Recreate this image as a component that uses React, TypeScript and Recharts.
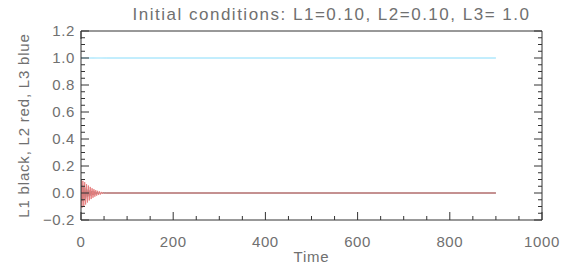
import { LineChart, Line, XAxis, YAxis } from "recharts";

// time samples: dense during the initial transient, then one point at the end
const TIME = [
  0, 2, 4, 6, 8, 10, 12, 14, 16, 18, 20, 22, 24, 26, 28, 30, 32, 34, 36, 38, 40,
  42, 44, 46, 48, 50, 52, 54, 56, 900,
];

const L1 = [
  0.1, -0.06, 0.05, -0.05, 0.04, -0.04, 0.03, -0.03, 0.025, -0.025, 0.02, -0.02,
  0.015, -0.015, 0.012, -0.011, 0.009, -0.008, 0.006, -0.005, 0.004, -0.004,
  0.003, -0.002, 0.002, -0.001, 0.001, 0.0, 0.0, 0.0,
];

const L2 = [
  0.1, -0.11, 0.09, -0.1, 0.08, -0.085, 0.065, -0.07, 0.055, -0.055, 0.045,
  -0.045, 0.035, -0.035, 0.028, -0.027, 0.021, -0.02, 0.016, -0.015, 0.012,
  -0.011, 0.008, -0.007, 0.005, -0.004, 0.003, -0.002, 0.0, 0.0,
];

const L3 = [
  1.0, 1.0, 1.0, 1.0, 1.0, 1.0, 1.0, 1.0, 1.0, 1.0, 1.0, 1.0, 1.0, 1.0, 1.0,
  1.0, 1.0, 1.0, 1.0, 1.0, 1.0, 1.0, 1.0, 1.0, 1.0, 1.0, 1.0, 1.0, 1.0, 1.0,
];

const X_MAJOR = [0, 200, 400, 600, 800, 1000];
const Y_MAJOR = [-0.2, 0.0, 0.2, 0.4, 0.6, 0.8, 1.0, 1.2];

const TITLE = "Initial conditions: L1=0.10, L2=0.10, L3= 1.0";
const X_LABEL = "Time";
const Y_LABEL = "L1 black, L2 red, L3 blue";

const data = TIME.map((t, i) => ({ t, l1: L1[i], l2: L2[i], l3: L3[i] }));

// minor ticks every 50 on x, every 0.05 on y
const xTicks = Array.from({ length: 21 }, (_, i) => i * 50);
const yTicks = Array.from({ length: 29 }, (_, i) => Math.round((-0.2 + i * 0.05) * 100) / 100);

const isXMajor = (v: number) => X_MAJOR.includes(v);
const isYMajor = (v: number) => Y_MAJOR.some((m) => Math.abs(m - v) < 1e-6);

const FONT = "'Liberation Sans', Arial, sans-serif";
const TEXT = "#707070";
const FRAME = "#333";
const MAJOR = 8;
const MINOR = 4;

const W = 574;
const H = 266;
const LEFT = 81;
const RIGHT = 32;
const TOP = 31;
const BOTTOM = 46;

function fmtY(v: number) {
  return v.toFixed(1).replace("-", "\u2212");
}

function BottomTick(props: any) {
  const { x, y, payload } = props;
  const major = isXMajor(payload.value);
  return (
    <g>
      <line x1={x} x2={x} y1={y} y2={y - (major ? MAJOR : MINOR)} stroke={FRAME} />
      {major && (
        <text
          x={x}
          y={y + 27}
          textAnchor="middle"
          fontSize={15}
          letterSpacing={0.6}
          fill={TEXT}
          fontFamily={FONT}
        >
          {payload.value}
        </text>
      )}
    </g>
  );
}

function TopTick(props: any) {
  const { x, y, payload } = props;
  const major = isXMajor(payload.value);
  return <line x1={x} x2={x} y1={y} y2={y + (major ? MAJOR : MINOR)} stroke={FRAME} />;
}

function LeftTick(props: any) {
  const { x, y, payload } = props;
  const major = isYMajor(payload.value);
  return (
    <g>
      <line x1={x} x2={x + (major ? MAJOR : MINOR)} y1={y} y2={y} stroke={FRAME} />
      {major && (
        <text
          x={x - 6}
          y={y + 5}
          textAnchor="end"
          fontSize={15}
          letterSpacing={0.6}
          fill={TEXT}
          fontFamily={FONT}
        >
          {fmtY(payload.value)}
        </text>
      )}
    </g>
  );
}

function RightTick(props: any) {
  const { x, y, payload } = props;
  const major = isYMajor(payload.value);
  return <line x1={x} x2={x - (major ? MAJOR : MINOR)} y1={y} y2={y} stroke={FRAME} />;
}

export default function App() {
  const plotCx = LEFT + (W - LEFT - RIGHT) / 2;
  const plotCy = TOP + (H - TOP - BOTTOM) / 2;
  return (
    <div style={{ position: "absolute", left: 0, top: 0, width: W, height: H, background: "#fff" }}>
      <LineChart width={W} height={H} data={data} margin={{ top: 0, right: 0, bottom: 0, left: 0 }}>
        <XAxis
          dataKey="t"
          type="number"
          domain={[0, 1000]}
          ticks={xTicks}
          interval={0}
          height={BOTTOM}
          tickSize={0}
          tickMargin={0}
          tickLine={false}
          axisLine={{ stroke: FRAME }}
          tick={BottomTick}
          allowDataOverflow
          label={() => (
            <text
              x={plotCx}
              y={262}
              textAnchor="middle"
              fontSize={15}
              letterSpacing={0.8}
              fill={TEXT}
              fontFamily={FONT}
            >
              {X_LABEL}
            </text>
          )}
        />
        <XAxis
          xAxisId="top"
          orientation="top"
          type="number"
          domain={[0, 1000]}
          ticks={xTicks}
          interval={0}
          height={TOP}
          tickSize={0}
          tickMargin={0}
          tickLine={false}
          axisLine={{ stroke: FRAME }}
          tick={TopTick}
          allowDataOverflow
          label={() => (
            <text
              x={plotCx + 20}
              y={20}
              textAnchor="middle"
              fontSize={17}
              letterSpacing={1.5}
              fill={TEXT}
              fontFamily={FONT}
            >
              {TITLE}
            </text>
          )}
        />
        <YAxis
          type="number"
          domain={[-0.2, 1.2]}
          ticks={yTicks}
          interval={0}
          width={LEFT}
          tickSize={0}
          tickMargin={0}
          tickLine={false}
          axisLine={{ stroke: FRAME }}
          tick={LeftTick}
          allowDataOverflow
          label={() => (
            <text
              x={23}
              y={plotCy}
              textAnchor="middle"
              fontSize={15}
              letterSpacing={0.8}
              fill={TEXT}
              fontFamily={FONT}
              transform={`rotate(-90 23 ${plotCy})`}
              dominantBaseline="central"
            >
              {Y_LABEL}
            </text>
          )}
        />
        <YAxis
          yAxisId="right"
          orientation="right"
          type="number"
          domain={[-0.2, 1.2]}
          ticks={yTicks}
          interval={0}
          width={RIGHT}
          tickSize={0}
          tickMargin={0}
          tickLine={false}
          axisLine={{ stroke: FRAME }}
          tick={RightTick}
          allowDataOverflow
        />
        <Line dataKey="l1" stroke="#444" strokeWidth={1} dot={false} isAnimationActive={false} />
        <Line dataKey="l2" stroke="#e88080" strokeWidth={1} dot={false} isAnimationActive={false} />
        <Line dataKey="l3" stroke="#86dcfb" strokeWidth={1} dot={false} isAnimationActive={false} />
      </LineChart>
    </div>
  );
}
